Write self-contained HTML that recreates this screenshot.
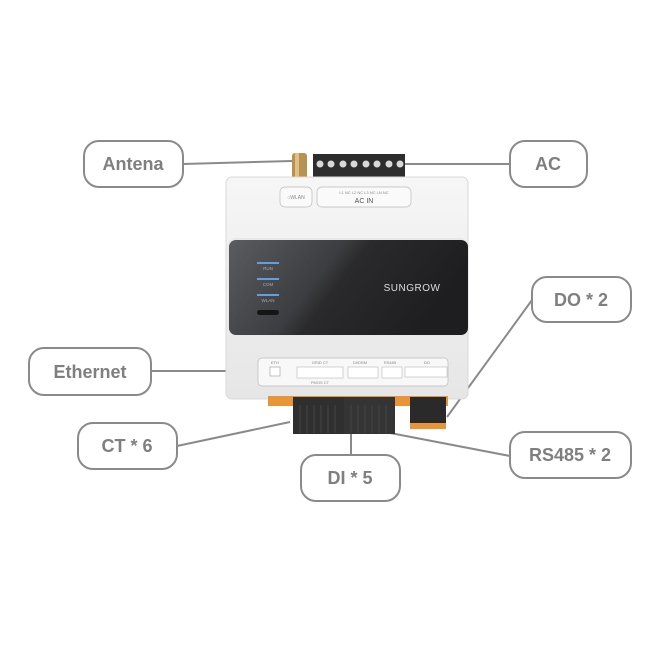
<!DOCTYPE html>
<html><head><meta charset="utf-8"><style>
html,body{margin:0;padding:0;background:#fff}
svg{display:block}
text{font-family:"Liberation Sans",sans-serif}
.lb{fill:#fff;stroke:#8a8a8a;stroke-width:2}
.lt{fill:#7f7f7f;font-weight:bold;font-size:18px;text-anchor:middle}
.ln{stroke:#8a8a8a;stroke-width:2;fill:none}
.s{fill:#888;font-size:4px;text-anchor:middle}
</style></head><body>
<svg width="664" height="664" viewBox="0 0 664 664" xmlns="http://www.w3.org/2000/svg">
<defs>
<linearGradient id="pan" x1="0" y1="0" x2="1" y2="0.3">
<stop offset="0" stop-color="#5a5c60"/><stop offset="0.45" stop-color="#3c3d40"/><stop offset="0.55" stop-color="#2a2a2c"/><stop offset="1" stop-color="#1e1e20"/></linearGradient>
<linearGradient id="body" x1="0" y1="0" x2="0" y2="1"><stop offset="0" stop-color="#f6f6f6"/><stop offset="1" stop-color="#e6e6e6"/></linearGradient>
</defs>
<!-- lines -->
<path class="ln" d="M183 164 L292 161"/>
<path class="ln" d="M405 164 L510 164"/>
<path class="ln" d="M532 300 L447 417"/>
<path class="ln" d="M151 371 L256 371"/>
<path class="ln" d="M177 446 L290 422"/>
<path class="ln" d="M351 454 L351 434"/>
<path class="ln" d="M510 456 L385 432"/>
<!-- antenna -->
<rect x="292" y="153" width="15" height="26" rx="3" fill="#b8924f"/>
<rect x="295" y="153" width="4" height="26" fill="#e0c08a"/>
<!-- AC terminal -->
<rect x="313" y="154" width="92" height="24" fill="#2d2d2d"/>
<g fill="#d8d8d8">
<circle cx="320" cy="164" r="3.5"/><circle cx="331" cy="164" r="3.5"/><circle cx="343" cy="164" r="3.5"/><circle cx="354" cy="164" r="3.5"/><circle cx="366" cy="164" r="3.5"/><circle cx="377" cy="164" r="3.5"/><circle cx="389" cy="164" r="3.5"/><circle cx="400" cy="164" r="3.5"/></g>
<!-- body -->
<rect x="226" y="177" width="242" height="222" rx="6" fill="url(#body)" stroke="#d8d8d8"/>
<rect x="280" y="187" width="32" height="20" rx="5" fill="#fafafa" stroke="#bbb" stroke-width="0.7"/>
<text x="296" y="199" class="s" style="font-size:5px">○WLAN</text>
<rect x="317" y="187" width="94" height="20" rx="5" fill="#fafafa" stroke="#bbb" stroke-width="0.7"/>
<text x="364" y="194" class="s">L1 NC L2 NC L3 NC LN NC</text>
<text x="364" y="203" class="s" style="font-size:7px;fill:#555">AC IN</text>
<rect x="228" y="238" width="240" height="98" rx="8" fill="#e8e8e8"/>
<rect x="229" y="240" width="239" height="95" rx="7" fill="url(#pan)"/>
<g stroke="#5ea0e0" stroke-width="2"><path d="M257 263h22"/><path d="M257 279h22"/><path d="M257 295h22"/></g>
<g fill="#aaa" font-size="4.5" text-anchor="middle"><text x="268" y="270">RUN</text><text x="268" y="286">COM</text><text x="268" y="302">WLAN</text></g>
<rect x="257" y="310" width="22" height="5" rx="2.5" fill="#151515"/>
<text x="412" y="291" fill="#ddd" font-size="10" text-anchor="middle" letter-spacing="0.5">SUNGROW</text>
<rect x="258" y="358" width="190" height="28" rx="4" fill="#f8f8f8" stroke="#bbb" stroke-width="0.7"/>
<text x="275" y="364" class="s">ETH</text><rect x="270" y="367" width="10" height="9" fill="#fff" stroke="#999" stroke-width="0.6"/>
<text x="320" y="364" class="s">GRID CT</text><rect x="297" y="367" width="46" height="11" fill="#fff" stroke="#aaa" stroke-width="0.5"/>
<text x="320" y="384" class="s">PMOS CT</text>
<text x="360" y="364" class="s">DI/DRM</text><rect x="348" y="367" width="30" height="11" fill="#fff" stroke="#aaa" stroke-width="0.5"/>
<text x="390" y="364" class="s">RS485</text><rect x="382" y="367" width="20" height="11" fill="#fff" stroke="#aaa" stroke-width="0.5"/>
<text x="427" y="364" class="s">DO</text><rect x="405" y="367" width="42" height="10" fill="#fff" stroke="#aaa" stroke-width="0.5"/>
<!-- bottom connectors -->
<rect x="268" y="396" width="180" height="10" fill="#e8953a"/>
<rect x="293" y="397" width="51" height="37" fill="#2f2f2f"/>
<rect x="344" y="397" width="51" height="37" fill="#343434"/>
<g stroke="#444" stroke-width="1"><path d="M300 405v28M307 405v28M314 405v28M321 405v28M328 405v28M335 405v28M351 405v28M358 405v28M365 405v28M372 405v28M379 405v28M386 405v28"/></g>
<rect x="410" y="397" width="36" height="32" fill="#2a2a2a"/>
<rect x="410" y="423" width="36" height="6" fill="#e8953a"/>
<!-- labels -->
<rect class="lb" x="84" y="141" width="99" height="46" rx="15"/><text class="lt" x="133" y="170">Antena</text>
<rect class="lb" x="510" y="141" width="77" height="46" rx="15"/><text class="lt" x="548" y="170">AC</text>
<rect class="lb" x="532" y="277" width="99" height="45" rx="15"/><text class="lt" x="581" y="306">DO * 2</text>
<rect class="lb" x="29" y="348" width="122" height="47" rx="15"/><text class="lt" x="90" y="378">Ethernet</text>
<rect class="lb" x="78" y="423" width="99" height="46" rx="15"/><text class="lt" x="127" y="452">CT * 6</text>
<rect class="lb" x="301" y="455" width="99" height="46" rx="15"/><text class="lt" x="350" y="484">DI * 5</text>
<rect class="lb" x="510" y="432" width="121" height="46" rx="15"/><text class="lt" x="570" y="461">RS485 * 2</text>
</svg>
</body></html>
